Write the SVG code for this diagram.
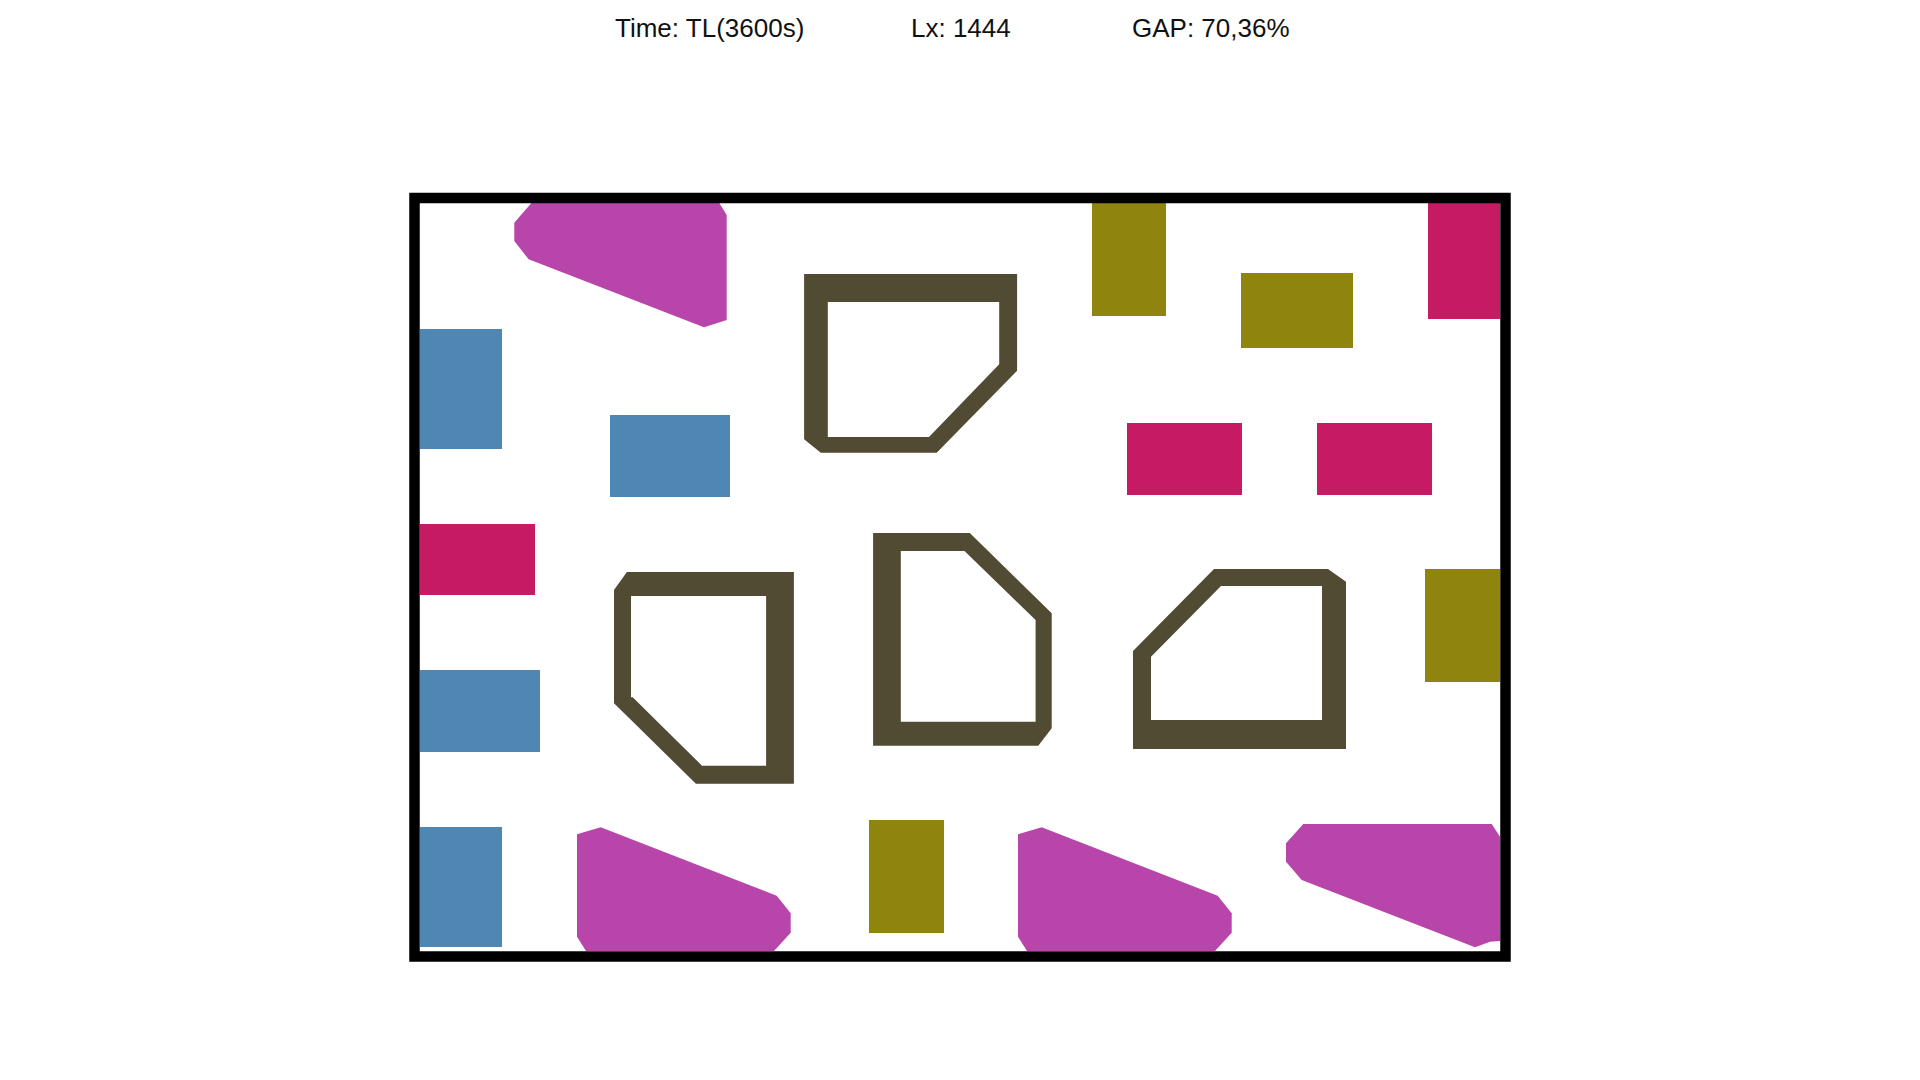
<svg xmlns="http://www.w3.org/2000/svg" width="1920" height="1080" viewBox="0 0 1920 1080">
<style>
.t{font-family:"Liberation Sans",Arial,sans-serif;font-size:26px;fill:#111}
.blue{fill:#4f87b4}
.olive{fill:#8f850e}
.pink{fill:#c71a65}
.mag{fill:#b845a9}
.dark{fill:#524b33;fill-rule:evenodd}
.frame{fill:none;stroke:#000;stroke-width:10.5}
</style>
<rect width="1920" height="1080" fill="#fff"/>
<g id="header">
<text class="t" x="615" y="37">Time: TL(3600s)</text>
<text class="t" x="911" y="37">Lx: 1444</text>
<text class="t" x="1132" y="37">GAP: 70,36%</text>
</g>
<g id="items">
<g id="mag1"><polygon class="mag" points="531.4,203 514.3,222.7 514.3,241 528.6,259.3 704,327.3 726.7,320 726.7,215 719.3,203"/></g>
<g id="mag2"><polygon class="mag" points="577,834.3 600.7,827.3 776.7,895.7 790.7,913.3 790.7,932.7 774,951 586,951 577,936.7"/></g>
<g id="mag3"><polygon class="mag" points="1018,834.3 1041.7,827.3 1217.7,895.7 1231.7,913.3 1231.7,932.7 1215,951 1027,951 1018,936.7"/></g>
<g id="mag4"><polygon class="mag" points="1303.3,824 1491.7,824 1500,836.7 1500,941 1490,941.7 1475,947.3 1301.7,880 1286,861.7 1286,843.3"/></g>
<g id="blue1"><rect class="blue" x="420" y="329" width="82" height="120"/></g>
<g id="blue2"><rect class="blue" x="610" y="415" width="120" height="82"/></g>
<g id="blue3"><rect class="blue" x="420" y="670" width="120" height="82"/></g>
<g id="blue4"><rect class="blue" x="420" y="827" width="82" height="120"/></g>
<g id="olive1"><rect class="olive" x="1092" y="203" width="74" height="113"/></g>
<g id="olive2"><rect class="olive" x="1241" y="273" width="112" height="75"/></g>
<g id="olive3"><rect class="olive" x="1425" y="569" width="75" height="113"/></g>
<g id="olive4"><rect class="olive" x="869" y="820" width="75" height="113"/></g>
<g id="pink1"><rect class="pink" x="1428" y="203" width="72" height="116"/></g>
<g id="pink2"><rect class="pink" x="1127" y="423" width="115" height="72"/></g>
<g id="pink3"><rect class="pink" x="1317" y="423" width="115" height="72"/></g>
<g id="pink4"><rect class="pink" x="420" y="524" width="115" height="71"/></g>
<g id="dark1"><path class="dark" d="M804.1,274 L1017.1,274 L1017.1,370.7 L936.7,452.7 L820.8,452.7 L804.1,439.3 Z M827.8,302 L827.8,437 L929,437 L999.2,364.3 L999.2,302 Z"/></g>
<g id="dark2"><path class="dark" d="M626.9,572 L793.9,572 L793.9,783.7 L695.9,783.7 L614,703.3 L614,590 Z M631,596 L631,697.3 L632.7,697.3 L702,765.7 L766.1,765.7 L766.1,596 Z"/></g>
<g id="dark3"><path class="dark" d="M873.1,533 L969.8,533 L1051.7,613.3 L1051.7,728.3 L1038.3,745.7 L873.1,745.7 Z M900.8,551 L900.8,721.7 L1035.6,721.7 L1035.6,620 L964.5,551 Z"/></g>
<g id="dark4"><path class="dark" d="M1214,569 L1328,569 L1346,581.7 L1346,749 L1133,749 L1133,651 Z M1221,586 L1151,656.7 L1151,720 L1322,720 L1322,586 Z"/></g>
</g>
<g id="container"><rect class="frame" x="414.5" y="198" width="1091" height="758.5"/></g>
</svg>
